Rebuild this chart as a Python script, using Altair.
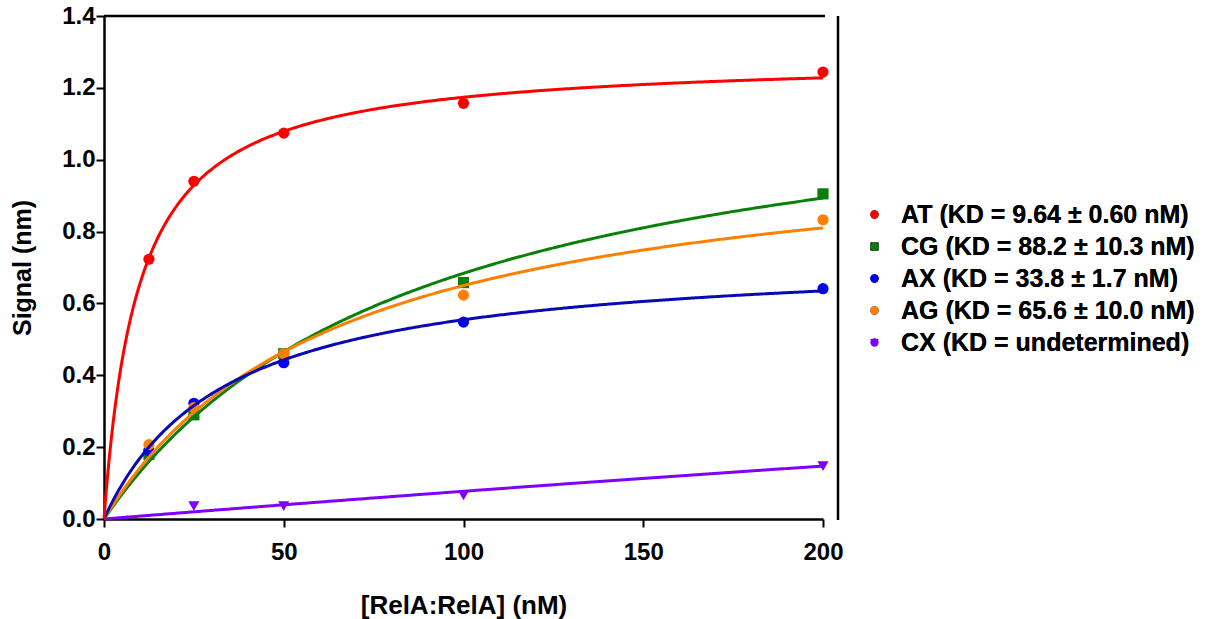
import altair as alt
import pandas as pd

# ---- data ----
series = ["AT", "CG", "AX", "AG", "CX"]
labels = [
    "AT (KD = 9.64 ± 0.60 nM)",
    "CG (KD = 88.2 ± 10.3 nM)",
    "AX (KD = 33.8 ± 1.7 nM)",
    "AG (KD = 65.6 ± 10.0 nM)",
    "CX (KD = undetermined)",
]
conc = [12.5, 25, 50, 100, 200]
AT_signal = [0.723, 0.940, 1.074, 1.157, 1.244]
CG_signal = [0.180, 0.290, 0.460, 0.658, 0.905]
AX_signal = [0.190, 0.322, 0.435, 0.548, 0.641]
AG_signal = [0.207, 0.310, 0.460, 0.623, 0.833]
CX_conc = [25, 50, 100, 200]
CX_signal = [0.036, 0.036, 0.066, 0.147]

fit_kd = [9.64, 88.2, 33.8, 65.6, 2000.0]
fit_bmax = [1.287, 1.287, 0.742, 1.076, 1.62]

point_colors = ["#ff0000", "#0a800a", "#0000ff", "#ff8000", "#8000ff"]
line_colors = ["#ff0000", "#0a800a", "#0a0ab4", "#ff8000", "#8000ff"]
shapes = ["circle", "square", "circle", "circle", "triangle-down"]

rows = []
for lab, xs, ys in [
    (labels[0], conc, AT_signal),
    (labels[1], conc, CG_signal),
    (labels[2], conc, AX_signal),
    (labels[3], conc, AG_signal),
    (labels[4], CX_conc, CX_signal),
]:
    for x, y in zip(xs, ys):
        rows.append({"label": lab, "x": x, "y": y})
points_df = pd.DataFrame(rows)

params_df = pd.DataFrame(
    {"idx": list(range(5)), "label": labels, "KD": fit_kd, "Bmax": fit_bmax}
)

FONT = "Liberation Sans"
W, H = 719, 503

x_scale = alt.Scale(domain=[0, 200], nice=False, zero=True)
y_scale = alt.Scale(domain=[0, 1.4], nice=False, zero=True)

x_axis = alt.Axis(
    values=[0, 50, 100, 150, 200], format="d", tickSize=8, tickWidth=2,
    labelPadding=13, grid=False, labelFlush=False, title="[RelA:RelA] (nM)",
    titleFontSize=26, titleFont=FONT, titleFontWeight="bold",
    titleY=86, titleBaseline="middle", titleColor="black",
    labelFont=FONT, labelFontSize=24, labelFontWeight="bold", labelColor="black",
    domainColor="black", domainWidth=2.5, tickColor="black",
)
y_axis = alt.Axis(
    values=[0, 0.2, 0.4, 0.6, 0.8, 1.0, 1.2, 1.4], format=".1f", tickSize=8,
    tickWidth=2, labelPadding=1, grid=False, labelFlush=False, title="Signal (nm)",
    titleFontSize=25, titleFont=FONT, titleFontWeight="bold",
    titleX=-82, titleY=H / 2, titleAngle=270, titleBaseline="middle",
    titleAlign="center", titleColor="black",
    labelFont=FONT, labelFontSize=24, labelFontWeight="bold", labelColor="black",
    domainColor="black", domainWidth=2.5, tickColor="black",
)

legend = alt.Legend(
    orient="none", legendX=758, legendY=186, title=None,
    labelFont=FONT, labelFontSize=25, labelFontWeight="bold", labelColor="black",
    symbolSize=70, labelOffset=14, rowPadding=6, labelLimit=600,
    symbolStrokeWidth=0,
)

points = alt.Chart(points_df).mark_point(filled=True, opacity=1, size=125).encode(
    x=alt.X("x:Q", scale=x_scale, axis=x_axis),
    y=alt.Y("y:Q", scale=y_scale, axis=y_axis),
    color=alt.Color("label:N", scale=alt.Scale(domain=labels, range=point_colors), legend=legend),
    shape=alt.Shape("label:N", scale=alt.Scale(domain=labels, range=shapes), legend=legend),
)

curves = (
    alt.Chart(alt.sequence(0, 200.5, 0.5, as_="x"))
    .transform_calculate(s="[4, 1, 3, 2, 0]")
    .transform_flatten(["s"])
    .transform_lookup(
        lookup="s",
        from_=alt.LookupData(data=params_df, key="idx", fields=["label", "KD", "Bmax"]),
    )
    .transform_calculate(y="datum.Bmax * datum.x / (datum.KD + datum.x)")
    .mark_line(strokeWidth=3)
    .encode(
        x=alt.X("x:Q", scale=x_scale, axis=x_axis),
        y=alt.Y("y:Q", scale=y_scale, axis=y_axis),
        color=alt.Color("label:N", scale=alt.Scale(domain=labels, range=line_colors), legend=None),
        order=alt.Order("x:Q"),
    )
)

dummy = alt.Data(values=[{"a": 1}])
top_line = alt.Chart(dummy).mark_rule(color="black", strokeWidth=2.5).encode(
    x=alt.value(0), x2=alt.value(W + 2), y=alt.value(0)
)
right_line = alt.Chart(dummy).mark_rule(color="black", strokeWidth=2.5).encode(
    x=alt.value(734), y=alt.value(0), y2=alt.value(H + 1)
)

chart = (
    alt.layer(points, curves, top_line, right_line)
    .resolve_scale(color="independent")
    .properties(
        width=W, height=H,
        autosize=alt.AutoSizeParams(type="none"),
        padding={"left": 104, "top": 16, "right": 1208 - 104 - W, "bottom": 619 - 16 - H},
    )
    .configure(
        background="white",
        view=alt.ViewConfig(stroke="white", strokeWidth=0, fill="white"),
        axis=alt.AxisConfig(grid=False, gridOpacity=0),
        style={"cell": {"stroke": "white", "strokeWidth": 0}},
    )
)

chart.save("out.html", embed_options={"renderer": "svg", "actions": False})
